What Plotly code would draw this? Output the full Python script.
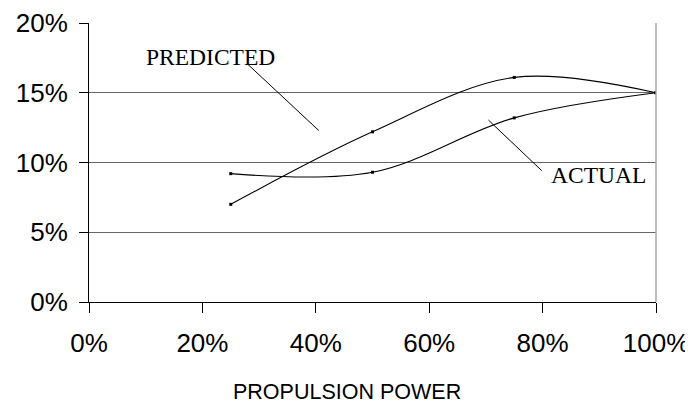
import plotly.graph_objects as go

# Data
power = [0.25, 0.50, 0.75, 1.00]
predicted = [0.070, 0.122, 0.161, 0.150]
actual = [0.092, 0.093, 0.132, 0.150]
x_ticks = [0, 0.2, 0.4, 0.6, 0.8, 1.0]
x_tick_labels = ["0%", "20%", "40%", "60%", "80%", "100%"]
y_ticks = [0, 0.05, 0.10, 0.15, 0.20]
y_tick_labels = ["0%", "5%", "10%", "15%", "20%"]
x_title = "PROPULSION POWER"

# Labels: text, text position, leader start, leader end
label_text = ["PREDICTED", "ACTUAL"]
label_x = [0.2141, 0.8987]
label_y = [0.1757, 0.0907]
leader_x0 = [0.2793, 0.7045]
leader_y0 = [0.1707, 0.1304]
leader_x1 = [0.4053, 0.7986]
leader_y1 = [0.1229, 0.0941]

fig = go.Figure()
for name, ys in [("Predicted", predicted), ("Actual", actual)]:
    fig.add_trace(go.Scatter(
        x=power, y=ys, name=name, mode="lines+markers",
        line=dict(color="black", width=1.1, shape="spline", smoothing=1.0),
        marker=dict(color="black", size=3, symbol="square"),
        showlegend=False, hoverinfo="skip"))

for i, t in enumerate(label_text):
    fig.add_annotation(x=label_x[i], y=label_y[i], text=t, showarrow=False,
                       xref="x", yref="y",
                       font=dict(family="Liberation Serif", size=23.5, color="black"))
    fig.add_shape(type="line", xref="x", yref="y",
                  x0=leader_x0[i], y0=leader_y0[i], x1=leader_x1[i], y1=leader_y1[i],
                  line=dict(color="black", width=1))

# axis title, centred on the whole chart
fig.add_annotation(x=0.4546, y=-0.322, xref="paper", yref="paper", text=x_title,
                   showarrow=False, yanchor="middle", xanchor="center",
                   font=dict(family="Liberation Sans", size=21.5, color="black"))

# right border of plot area
fig.add_shape(type="line", xref="paper", yref="paper", x0=1, x1=1, y0=0, y1=1,
              line=dict(color="#a8a8a8", width=1.5))

fig.update_layout(
    width=685, height=398,
    margin=dict(l=81, r=37, t=15, b=104),
    paper_bgcolor="white", plot_bgcolor="white",
    font=dict(family="Liberation Sans", size=26, color="black"),
    xaxis=dict(range=[0, 1], tickvals=x_ticks, ticktext=x_tick_labels,
               showgrid=False, zeroline=False, showline=True, linecolor="black",
               linewidth=1, ticks="outside", ticklen=10, tickcolor="black",
               ticklabelstandoff=8, automargin=False, ticklabeloverflow="allow"),
    yaxis=dict(range=[0, 0.2], tickvals=y_ticks, ticktext=y_tick_labels,
               showgrid=True, gridcolor="#666666", gridwidth=1,
               zeroline=False, showline=True, linecolor="black", linewidth=1,
               ticks="outside", ticklen=9, tickcolor="black",
               ticklabelstandoff=6, automargin=False, ticklabeloverflow="allow"),
)

fig.write_html("out.html")
